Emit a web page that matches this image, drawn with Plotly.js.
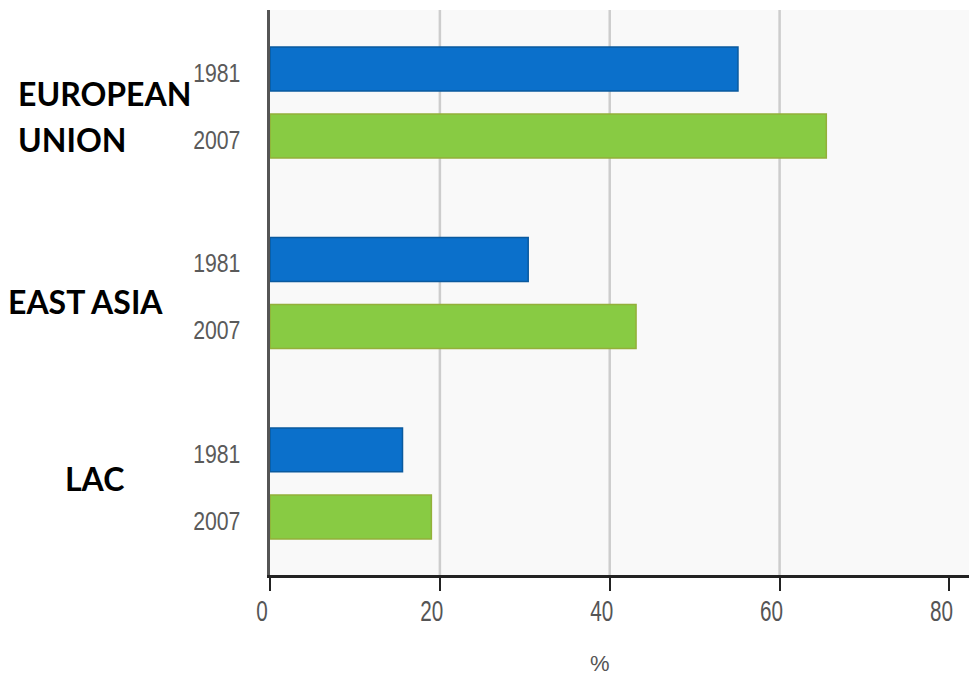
<!DOCTYPE html>
<html>
<head>
<meta charset="utf-8">
<script src="https://cdn.plot.ly/plotly-3.0.1.min.js"></script>
<style>
  html, body { margin: 0; padding: 0; background: #ffffff; }
  #chart { width: 969px; height: 675px; }
</style>
</head>
<body>
<div id="chart"></div>
<script>
// Regions shown top to bottom, and the share (%) for each survey year
const regions = ["EUROPEAN UNION", "EAST ASIA", "LAC"];
const regionLabelLines = [["EUROPEAN", "UNION"], ["EAST ASIA"], ["LAC"]];
const years = ["1981", "2007"];
const values1981 = [55.1, 30.4, 15.6];
const values2007 = [65.5, 43.1, 19.0];
const xTickValues = [0, 20, 40, 60, 80];
const xTickLabels = ["0", "20", "40", "60", "80"];
const gridValues = [20, 40, 60];
const xAxisTitle = "%";

const yearColors = ["#0b70cb", "#88cb43"];
const yearEdges = ["#0a5a9f", "#93b03a"];
const seriesByYear = [values1981, values2007];

const traces = years.map((yr, k) => ({
  type: "bar",
  orientation: "h",
  name: yr,
  y: regions,
  x: seriesByYear[k],
  marker: { color: yearColors[k], line: { color: yearEdges[k], width: 1.5 } },
  hoverinfo: "x+name",
  showlegend: false
}));

const grayFont = "Liberation Sans";

// Year labels beside each bar, bold region names further left, axis unit below
const annotations = [];
const slotHalf = 0.176; // half of the distance between the two bars of a region
regions.forEach((r, g) => {
  years.forEach((yr, k) => {
    annotations.push({
      xref: "paper", yref: "y",
      x: 0, y: g + (k === 0 ? -slotHalf : slotHalf),
      xanchor: "right", yanchor: "middle",
      xshift: -23, yshift: -4,
      text: yr, showarrow: false,
      font: { family: grayFont, size: 25, color: "#5a5a5a" },
      name: "year-label"
    });
  });
});
const regionLabelPlacement = [
  { xshift: -254, yshifts: [9, -37] },
  { xshift: -264, yshifts: [-9] },
  { xshift: -207, yshifts: [5] }
];
regionLabelLines.forEach((lines, g) => {
  lines.forEach((line, i) => {
    annotations.push({
      xref: "paper", yref: "y",
      x: 0, y: g,
      xanchor: "left", yanchor: "middle",
      xshift: regionLabelPlacement[g].xshift,
      yshift: regionLabelPlacement[g].yshifts[i],
      text: "<b>" + line + "</b>", showarrow: false,
      font: { family: "Lato", size: 32, color: "#000000" }
    });
  });
});
annotations.push({
  xref: "paper", yref: "paper",
  x: 0.5, y: 0, xanchor: "center", yanchor: "middle",
  xshift: -20, yshift: -88,
  text: xAxisTitle, showarrow: false,
  font: { family: grayFont, size: 22, color: "#555555" }
});

// Vertical gridlines (none at the last tick)
const shapes = gridValues.map(v => ({
  type: "line", xref: "x", yref: "paper",
  x0: v, x1: v, y0: 0, y1: 1,
  line: { color: "#cdcdcd", width: 2.5 },
  layer: "below"
}));

const layout = {
  width: 969, height: 675,
  margin: { l: 270, r: 0, t: 10, b: 100 },
  paper_bgcolor: "#ffffff",
  plot_bgcolor: "#f9f9f9",
  barmode: "group",
  bargap: 0.296,
  bargroupgap: 0.344,
  xaxis: {
    range: [0, 82.3],
    tickvals: xTickValues, ticktext: xTickLabels,
    showgrid: false, zeroline: false,
    showline: true, linecolor: "#222222", linewidth: 3,
    ticks: "outside", ticklen: 13, tickwidth: 2, tickcolor: "#222222",
    ticklabelshift: -8,
    ticklabelstandoff: -6,
    tickfont: { family: grayFont, size: 30, color: "#555555" }
  },
  yaxis: {
    type: "category",
    categoryorder: "array", categoryarray: regions,
    range: [2.481, -0.486],
    showticklabels: false, ticks: "",
    showgrid: false, zeroline: false,
    showline: true, linecolor: "#555555", linewidth: 3
  },
  annotations: annotations,
  shapes: shapes
};

// Squeeze gray labels horizontally around their anchor to get a condensed face
function narrowText(nodes, sx) {
  nodes.forEach(t => {
    const cx = parseFloat(t.getAttribute("x")) || 0;
    const base = t.getAttribute("transform") || "";
    t.setAttribute("transform",
      base + " translate(" + cx + ",0) scale(" + sx + ",1) translate(" + (-cx) + ",0)");
  });
}

Plotly.newPlot("chart", traces, layout, { displayModeBar: false, staticPlot: true }).then(gd => {
  narrowText(gd.querySelectorAll(".xtick text"), 0.69);
  const yearNodes = Array.from(gd.querySelectorAll(".annotation-text"))
    .filter(t => years.includes(t.textContent));
  narrowText(yearNodes, 0.85);
});
</script>
</body>
</html>
